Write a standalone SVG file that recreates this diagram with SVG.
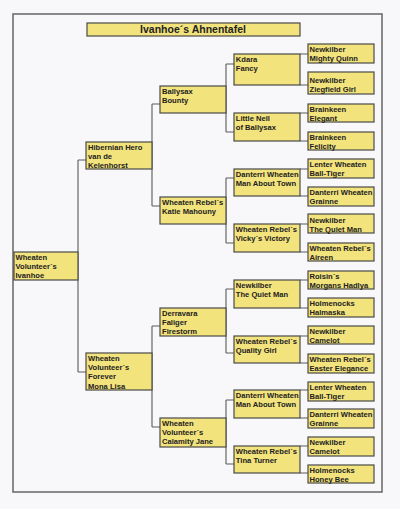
<svg xmlns="http://www.w3.org/2000/svg" width="400" height="509" viewBox="0 0 400 509">
<style>
.bg{fill:#F8F8FA}
.frame{fill:none;stroke:#6E6E6E;stroke-width:1.6}
.box{fill:#F2E37C;stroke:#4A4A4A;stroke-width:1.2}
.c{fill:none;stroke:#5A5A5A;stroke-width:1.1}
.t{font-family:"Liberation Sans",Arial,sans-serif;font-size:7.6px;font-weight:bold;fill:#222}
.title{font-family:"Liberation Sans",Arial,sans-serif;font-size:10.5px;font-weight:bold;fill:#222;text-anchor:middle}
</style>
<rect class="bg" x="0" y="0" width="400" height="509"/>
<rect class="frame" x="13" y="14" width="369" height="478"/>
<g id="title">
<rect class="box" x="87" y="23" width="213" height="13"/>
<text class="title" x="193" y="33.3">Ivanhoe´s Ahnentafel</text>
</g>
<g id="connectors">
<path class="c" d="M78 160V372M78 160H86M78 372H86"/>
<path class="c" d="M152 104V206M152 104H160M152 206H160M152 326V427M152 326H160M152 427H160"/>
<path class="c" d="M226 64V132M226 64H234M226 132H234M226 178V243M226 178H234M226 243H234M226 289V353M226 289H234M226 353H234M226 400V464M226 400H234M226 464H234"/>
<path class="c" d="M300 54H308M300 85H308M300 113H308M300 141H308M300 169H308M300 196H308M300 224H308M300 252H308M300 280H308M300 308H308M300 336H308M300 363H308M300 390H308M300 418H308M300 446H308M300 473H308"/>
</g>
<g id="n0"><rect class="box" x="14" y="252" width="64" height="28"/><text class="t" x="15.5" y="260">Wheaten</text><text class="t" x="15.5" y="269.2">Volunteer´s</text><text class="t" x="15.5" y="278.4">Ivanhoe</text></g>
<g id="n1"><rect class="box" x="86" y="142" width="66" height="27"/><text class="t" x="88" y="150">Hibernian Hero</text><text class="t" x="88" y="159.2">van de</text><text class="t" x="88" y="168.4">Kelenhorst</text></g>
<g id="n2"><rect class="box" x="86" y="353" width="66" height="37"/><text class="t" x="88" y="361">Wheaten</text><text class="t" x="88" y="370.2">Volunteer´s</text><text class="t" x="88" y="379.4">Forever</text><text class="t" x="88" y="388.6">Mona Lisa</text></g>
<g id="n3"><rect class="box" x="160" y="86" width="66" height="27"/><text class="t" x="162" y="94">Ballysax</text><text class="t" x="162" y="103.2">Bounty</text></g>
<g id="n4"><rect class="box" x="160" y="197" width="66" height="27"/><text class="t" x="162" y="205">Wheaten Rebel´s</text><text class="t" x="162" y="214.2">Katie Mahouny</text></g>
<g id="n5"><rect class="box" x="160" y="308" width="66" height="28"/><text class="t" x="162" y="316">Derravara</text><text class="t" x="162" y="325.2">Faliger</text><text class="t" x="162" y="334.4">Firestorm</text></g>
<g id="n6"><rect class="box" x="160" y="418" width="66" height="29"/><text class="t" x="162" y="426">Wheaten</text><text class="t" x="162" y="435.2">Volunteer´s</text><text class="t" x="162" y="444.4">Calamity Jane</text></g>
<g id="n7"><rect class="box" x="234" y="54" width="66" height="31"/><text class="t" x="235.8" y="62">Kdara</text><text class="t" x="235.8" y="71.2">Fancy</text></g>
<g id="n8"><rect class="box" x="234" y="113" width="66" height="28"/><text class="t" x="235.8" y="121">Little Nell</text><text class="t" x="235.8" y="130.2">of Ballysax</text></g>
<g id="n9"><rect class="box" x="234" y="169" width="66" height="27"/><text class="t" x="235.8" y="177">Danterri Wheaten</text><text class="t" x="235.8" y="186.2">Man About Town</text></g>
<g id="n10"><rect class="box" x="234" y="224" width="66" height="28"/><text class="t" x="235.8" y="232">Wheaten Rebel´s</text><text class="t" x="235.8" y="241.2">Vicky´s Victory</text></g>
<g id="n11"><rect class="box" x="234" y="280" width="66" height="28"/><text class="t" x="235.8" y="288">Newkilber</text><text class="t" x="235.8" y="297.2">The Quiet Man</text></g>
<g id="n12"><rect class="box" x="234" y="336" width="66" height="27"/><text class="t" x="235.8" y="344">Wheaten Rebel´s</text><text class="t" x="235.8" y="353.2">Quality Girl</text></g>
<g id="n13"><rect class="box" x="234" y="390" width="66" height="28"/><text class="t" x="235.8" y="398">Danterri Wheaten</text><text class="t" x="235.8" y="407.2">Man About Town</text></g>
<g id="n14"><rect class="box" x="234" y="446" width="66" height="27"/><text class="t" x="235.8" y="454">Wheaten Rebel´s</text><text class="t" x="235.8" y="463.2">Tina Turner</text></g>
<g id="n15"><rect class="box" x="308" y="44" width="66" height="19"/><text class="t" x="309.5" y="52">Newkilber</text><text class="t" x="309.5" y="61.2">Mighty Quinn</text></g>
<g id="n16"><rect class="box" x="308" y="72" width="66" height="22"/><text class="t" x="309.5" y="83.2">Newkilber</text><text class="t" x="309.5" y="92.4">Ziegfield Girl</text></g>
<g id="n17"><rect class="box" x="308" y="104" width="66" height="18"/><text class="t" x="309.5" y="111.6">Brainkeen</text><text class="t" x="309.5" y="120.8">Elegant</text></g>
<g id="n18"><rect class="box" x="308" y="132" width="66" height="18"/><text class="t" x="309.5" y="139.8">Brainkeen</text><text class="t" x="309.5" y="149">Felicity</text></g>
<g id="n19"><rect class="box" x="308" y="159" width="66" height="19"/><text class="t" x="309.5" y="167">Lenter Wheaten</text><text class="t" x="309.5" y="176.2">Ball-Tiger</text></g>
<g id="n20"><rect class="box" x="308" y="187" width="66" height="19"/><text class="t" x="309.5" y="195">Danterri Wheaten</text><text class="t" x="309.5" y="204.2">Grainne</text></g>
<g id="n21"><rect class="box" x="308" y="214" width="66" height="19"/><text class="t" x="309.5" y="222.5">Newkilber</text><text class="t" x="309.5" y="231.7">The Quiet Man</text></g>
<g id="n22"><rect class="box" x="308" y="243" width="66" height="18"/><text class="t" x="309.5" y="250.5">Wheaten Rebel´s</text><text class="t" x="309.5" y="259.7">Aireen</text></g>
<g id="n23"><rect class="box" x="308" y="271" width="66" height="18"/><text class="t" x="309.5" y="278.6">Roisin´s</text><text class="t" x="309.5" y="287.8">Morgans Hadlya</text></g>
<g id="n24"><rect class="box" x="308" y="298" width="66" height="19"/><text class="t" x="309.5" y="306">Holmenocks</text><text class="t" x="309.5" y="315.2">Halmaska</text></g>
<g id="n25"><rect class="box" x="308" y="326" width="66" height="18"/><text class="t" x="309.5" y="333.6">Newkilber</text><text class="t" x="309.5" y="342.8">Camelot</text></g>
<g id="n26"><rect class="box" x="308" y="354" width="66" height="19"/><text class="t" x="309.5" y="362">Wheaten Rebel´s</text><text class="t" x="309.5" y="371.2">Easter Elegance</text></g>
<g id="n27"><rect class="box" x="308" y="382" width="66" height="19"/><text class="t" x="309.5" y="390">Lenter Wheaten</text><text class="t" x="309.5" y="399.2">Ball-Tiger</text></g>
<g id="n28"><rect class="box" x="308" y="409" width="66" height="19"/><text class="t" x="309.5" y="417">Danterri Wheaten</text><text class="t" x="309.5" y="426.2">Grainne</text></g>
<g id="n29"><rect class="box" x="308" y="437" width="66" height="19"/><text class="t" x="309.5" y="445">Newkilber</text><text class="t" x="309.5" y="454.2">Camelot</text></g>
<g id="n30"><rect class="box" x="308" y="465" width="66" height="18"/><text class="t" x="309.5" y="472.6">Holmenocks</text><text class="t" x="309.5" y="481.8">Honey Bee</text></g>
</svg>
